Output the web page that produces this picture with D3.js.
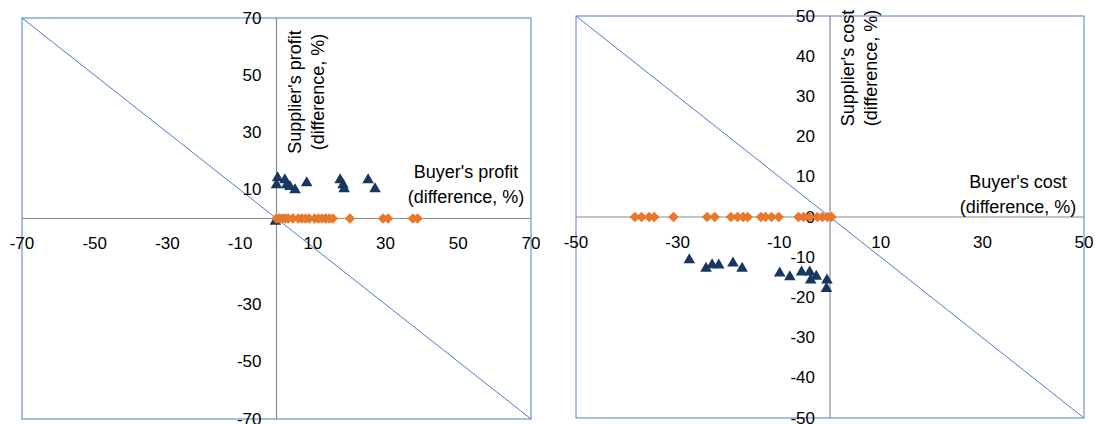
<!DOCTYPE html>
<html>
<head>
<meta charset="utf-8">
<script src="https://cdn.jsdelivr.net/npm/d3@7"></script>
<style>
  html, body { margin: 0; padding: 0; background: #ffffff; }
  svg text { font-family: Arial, "Liberation Sans", sans-serif; fill: #000; }
</style>
</head>
<body>
<svg id="chart" width="1096" height="424"></svg>
<script>
// ---- Profit panel (differences, %) ----
const profitTicksX = [-70, -50, -30, -10, 10, 30, 50, 70];
const profitTicksY = [70, 50, 30, 10, -30, -50, -70];
const profitTriangleX = [-0.3, 0.3, 0, 2.3, 2.8, 3.7, 5.1, 8.3, 17.5, 18.3, 18.6, 25.2, 27.1];
const profitTriangleY = [-1, 14.2, 11.7, 13.5, 11.7, 11.1, 10, 12.4, 13.5, 11.7, 10.3, 13.5, 10.3];
const profitDiamondX = [0, 0.8, 1.6, 2.4, 3.2, 4.5, 6, 7, 8, 9, 10.5, 11.5, 12.5, 13.5, 14.5, 15.5, 20.2, 29.3, 30.7, 37.5, 38.8];
const profitDiamondY = [0, 0, 0, 0, 0, 0, 0, 0, 0, 0, 0, 0, 0, 0, 0, 0, 0, 0, 0, 0, 0];

// ---- Cost panel (differences, %) ----
const costTicksX = [-50, -30, -10, 10, 30, 50];
const costTicksY = [50, 40, 30, 20, 10, 0, -10, -20, -30, -40, -50];
const costTriangleX = [-27.7, -24.4, -23.2, -21.9, -19.1, -17.3, -9.9, -7.9, -5.6, -4.0, -3.8, -2.7, -0.6, -0.7];
const costTriangleY = [-10.7, -12.8, -11.9, -12.0, -11.5, -12.8, -14.0, -14.9, -13.7, -13.7, -15.7, -14.8, -15.7, -17.8];
const costDiamondX = [-38.4, -37.1, -35.6, -34.6, -30.8, -24.2, -22.7, -19.5, -18.2, -17.1, -16.2, -13.6, -12.7, -11.5, -10.1, -6.2, -5.2, -4.0, -2.5, -1.5, -0.5, 0.3];
const costDiamondY = [0, 0, 0, 0, 0, 0, 0, 0, 0, 0, 0, 0, 0, 0, 0, 0, 0, 0, 0, 0, 0, 0];

const COLORS = { frame: "#4f7fc8", diag: "#4a7cc9", axis: "#8c8c8c", tri: "#17375e", dia: "#e8782a" };

const svg = d3.select("#chart");

function panel(cfg) {
  const x = d3.scaleLinear().domain(cfg.domain).range(cfg.xRange);
  const y = d3.scaleLinear().domain(cfg.domain).range(cfg.yRange);
  const g = svg.append("g");
  const [d0, d1] = cfg.domain;

  // plot frame
  g.append("rect")
    .attr("x", x(d0)).attr("y", y(d1))
    .attr("width", x(d1) - x(d0)).attr("height", y(d0) - y(d1))
    .attr("fill", "none").attr("stroke", COLORS.frame).attr("stroke-width", 1);

  // axes through the origin (no tick marks, labels only)
  g.append("line").attr("x1", x(d0)).attr("x2", x(d1)).attr("y1", y(0)).attr("y2", y(0))
    .attr("stroke", COLORS.axis).attr("stroke-width", 1.2);
  g.append("line").attr("x1", x(0)).attr("x2", x(0)).attr("y1", y(d0)).attr("y2", y(d1))
    .attr("stroke", COLORS.axis).attr("stroke-width", 1.2);

  // diagonal y = -x
  g.append("line").attr("x1", x(d0)).attr("y1", y(d1)).attr("x2", x(d1)).attr("y2", y(d0))
    .attr("stroke", COLORS.diag).attr("stroke-width", 1);

  // tick labels
  g.selectAll(".xt").data(cfg.ticksX).join("text")
    .attr("x", d => x(d)).attr("y", y(0) + 25)
    .attr("text-anchor", "middle").attr("dominant-baseline", "central")
    .attr("font-size", 17).text(d => d);
  g.selectAll(".yt").data(cfg.ticksY).join("text")
    .attr("x", x(0) - 15).attr("y", d => y(d))
    .attr("text-anchor", "end").attr("dominant-baseline", "central")
    .attr("font-size", 17).text(d => d);

  // markers: triangles first, diamonds on top
  const tri = d3.symbol().type(d3.symbolTriangle).size(58);
  const dia = d3.symbol().type(d3.symbolSquare).size(56);
  g.selectAll(".tri").data(cfg.triX.map((v, i) => [v, cfg.triY[i]])).join("path")
    .attr("d", tri).attr("fill", COLORS.tri)
    .attr("transform", d => `translate(${x(d[0])},${y(d[1])})`);
  g.selectAll(".dia").data(cfg.diaX.map((v, i) => [v, cfg.diaY[i]])).join("path")
    .attr("d", dia).attr("fill", COLORS.dia)
    .attr("transform", d => `translate(${x(d[0])},${y(d[1])}) rotate(45)`);

  // horizontal axis title
  const ht = g.append("text").attr("font-size", 18).attr("text-anchor", "middle");
  cfg.xTitle.forEach((t, i) => ht.append("tspan")
    .attr("x", cfg.xTitlePos[0]).attr("y", cfg.xTitlePos[1] + i * 25).text(t));

  // vertical axis title
  const vt = g.append("text").attr("font-size", 18).attr("text-anchor", "middle")
    .attr("transform", `translate(${cfg.yTitlePos[0]},${cfg.yTitlePos[1]}) rotate(-90)`);
  cfg.yTitle.forEach((t, i) => vt.append("tspan").attr("x", 0).attr("y", i * 23).text(t));
}

panel({
  domain: [-70, 70], xRange: [22, 531], yRange: [419, 18],
  ticksX: profitTicksX, ticksY: profitTicksY,
  triX: profitTriangleX, triY: profitTriangleY,
  diaX: profitDiamondX, diaY: profitDiamondY,
  xTitle: ["Buyer's profit", "(difference, %)"], xTitlePos: [466, 178],
  yTitle: ["Supplier's profit", "(difference, %)"], yTitlePos: [301, 92]
});

panel({
  domain: [-50, 50], xRange: [576, 1084], yRange: [418, 16],
  ticksX: costTicksX, ticksY: costTicksY,
  triX: costTriangleX, triY: costTriangleY,
  diaX: costDiamondX, diaY: costDiamondY,
  xTitle: ["Buyer's cost", "(difference, %)"], xTitlePos: [1018, 188],
  yTitle: ["Supplier's cost", "(difference, %)"], yTitlePos: [854, 68]
});
</script>
</body>
</html>
